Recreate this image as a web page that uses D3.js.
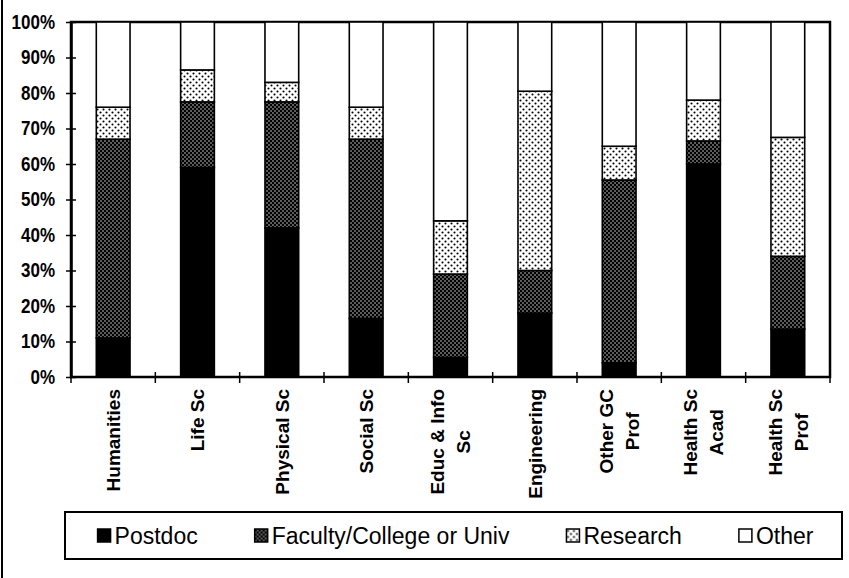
<!doctype html>
<html lang="en">
<head>
<meta charset="UTF-8">
<title>Stacked Bar Chart</title>
<style>
  body { margin: 0; background: #fff; }
  svg { font-family: "Liberation Sans", Arial, sans-serif; }
  .ylab { font-size: 17px; font-weight: bold; }
  .xlab { font-size: 19px; font-weight: bold; }
  .leg { font-size: 23px; }
</style>
</head>
<body>
<script src="https://cdn.jsdelivr.net/npm/d3@7"></script>
<script>
  // values, percent of each group
  const categories = [
    ['Humanities'], ['Life Sc'], ['Physical Sc'], ['Social Sc'],
    ['Educ & Info', 'Sc'], ['Engineering'], ['Other GC', 'Prof'],
    ['Health Sc', 'Acad'], ['Health Sc', 'Prof']
  ]
  const postdoc  = [11, 59, 42, 16.5, 5.5, 18, 4, 60, 13.5]
  const faculty  = [56, 18.5, 35.5, 50.5, 23.5, 12, 51.5, 6.5, 20.5]
  const research = [9, 9, 5.5, 9, 15, 50.5, 9.5, 11.5, 33.5]
  const other    = [24, 13.5, 17, 24, 56, 19.5, 35, 22, 32.5]
  const seriesNames = ['Postdoc', 'Faculty/College or Univ', 'Research', 'Other']
  const yTicks = [0, 10, 20, 30, 40, 50, 60, 70, 80, 90, 100]

  const W = 849, H = 578
  const plot = {left: 71, right: 830, top: 22, bottom: 377}

  const rows = categories.map((c, i) => ({
    key: c.join(' '),
    Postdoc: postdoc[i],
    'Faculty/College or Univ': faculty[i],
    Research: research[i],
    Other: other[i]
  }))

  const svg = d3.select('body').append('svg')
    .attr('width', W).attr('height', H)

  // fill patterns
  const defs = svg.append('defs')
  const pf = defs.append('pattern').attr('id', 'pFac')
    .attr('patternUnits', 'userSpaceOnUse').attr('width', 4).attr('height', 4)
  pf.append('rect').attr('width', 4).attr('height', 4).attr('fill', '#000')
  pf.append('circle').attr('cx', 1).attr('cy', 1).attr('r', 0.7).attr('fill', '#fff')
  pf.append('circle').attr('cx', 3).attr('cy', 3).attr('r', 0.7).attr('fill', '#fff')

  const pr = defs.append('pattern').attr('id', 'pRes')
    .attr('patternUnits', 'userSpaceOnUse').attr('width', 6).attr('height', 6)
  pr.append('rect').attr('width', 6).attr('height', 6).attr('fill', '#fff')
  pr.append('circle').attr('cx', 1.5).attr('cy', 1.5).attr('r', 1.05).attr('fill', '#000')
  pr.append('circle').attr('cx', 4.5).attr('cy', 4.5).attr('r', 1.05).attr('fill', '#000')

  const fills = {
    Postdoc: '#000',
    'Faculty/College or Univ': 'url(#pFac)',
    Research: 'url(#pRes)',
    Other: '#fff'
  }

  const x = d3.scaleBand()
    .domain(rows.map(d => d.key))
    .range([plot.left, plot.right])
    .paddingInner(0.6).paddingOuter(0.3)

  const y = d3.scaleLinear()
    .domain([0, 100])
    .range([plot.bottom, plot.top])

  // outer frame line at the left
  svg.append('line')
    .attr('x1', 2).attr('x2', 2).attr('y1', 0).attr('y2', H)
    .attr('stroke', '#000').attr('stroke-width', 2)

  // plot area border
  svg.append('rect')
    .attr('x', plot.left).attr('y', plot.top)
    .attr('width', plot.right - plot.left).attr('height', plot.bottom - plot.top)
    .attr('fill', 'none').attr('stroke', '#000').attr('stroke-width', 2.5)

  const stack = d3.stack().keys(seriesNames)(rows)

  svg.append('g').selectAll('g')
    .data(stack)
    .join('g')
    .attr('fill', d => fills[d.key])
    .selectAll('rect')
    .data(d => d)
    .join('rect')
    .attr('x', d => x(d.data.key))
    .attr('width', x.bandwidth())
    .attr('y', d => y(d[1]))
    .attr('height', d => y(d[0]) - y(d[1]))
    .attr('stroke', '#000')
    .attr('stroke-width', 1.6)

  // y axis
  const yAxis = d3.axisLeft(y)
    .tickValues(yTicks)
    .tickFormat(d => d + '%')
    .tickSizeInner(5).tickSizeOuter(0).tickPadding(11)
  const gy = svg.append('g')
    .attr('transform', `translate(${plot.left},0)`)
    .call(yAxis)
  gy.select('.domain').attr('stroke-width', 2.5)
  gy.selectAll('.tick line').attr('x2', 5).attr('x1', -5).attr('stroke-width', 1.5)
  gy.selectAll('.tick text').attr('class', 'ylab').attr('fill', '#000')
    .attr('font-family', null).attr('font-size', null)
    .attr('transform', 'scale(1,1.2)')
    .attr('dy', '0.3em')

  // x axis ticks at band boundaries
  const step = x.step()
  const bounds = d3.range(categories.length + 1).map(i => plot.left + i * step)
  svg.append('g').selectAll('line')
    .data(bounds)
    .join('line')
    .attr('x1', d => d).attr('x2', d => d)
    .attr('y1', plot.bottom - 5).attr('y2', plot.bottom + 6)
    .attr('stroke', '#000').attr('stroke-width', 1.5)

  // rotated category labels
  const lineGap = 26
  const xl = svg.append('g')
  categories.forEach((lines, i) => {
    const cx = x(rows[i].key) + x.bandwidth() / 2
    const g = xl.append('g')
      .attr('transform', `translate(${cx},389) rotate(-90)`)
    lines.forEach((t, j) => {
      const off = (j - (lines.length - 1) / 2) * lineGap
      g.append('text')
        .attr('class', 'xlab')
        .attr('x', 0).attr('y', off)
        .attr('dy', '0.36em')
        .attr('text-anchor', 'end')
        .text(t)
    })
    // centre shorter lines against the longest one
    const texts = g.selectAll('text').nodes()
    const maxLen = d3.max(texts, n => n.getComputedTextLength())
    texts.forEach(n => {
      const l = n.getComputedTextLength()
      d3.select(n).attr('x', -(maxLen - l) / 2)
    })
  })

  // legend
  const legBox = {x: 65, y: 512, w: 777, h: 47}
  svg.append('rect')
    .attr('x', legBox.x).attr('y', legBox.y)
    .attr('width', legBox.w).attr('height', legBox.h)
    .attr('fill', '#fff').attr('stroke', '#000').attr('stroke-width', 2)

  const leg = svg.append('g')
  const sym = 13, symGap = 4, itemGap = 57
  const items = seriesNames.map(name => {
    const g = leg.append('g')
    g.append('rect')
      .attr('width', sym).attr('height', sym)
      .attr('y', -sym / 2)
      .attr('fill', fills[name]).attr('stroke', '#000').attr('stroke-width', 1.5)
    const t = g.append('text')
      .attr('class', 'leg')
      .attr('x', sym + symGap)
      .attr('dy', '0.36em')
      .text(name)
    return {g, w: sym + symGap + t.node().getComputedTextLength()}
  })
  const total = d3.sum(items, d => d.w) + itemGap * (items.length - 1)
  let cx = legBox.x + (legBox.w - total) / 2 + 2
  items.forEach(it => {
    it.g.attr('transform', `translate(${cx},${legBox.y + legBox.h / 2})`)
    cx += it.w + itemGap
  })
</script>
</body>
</html>
